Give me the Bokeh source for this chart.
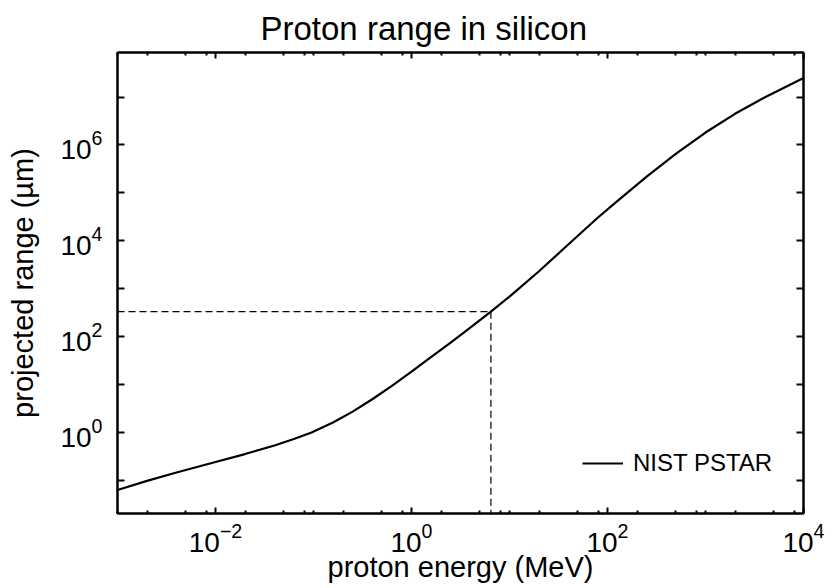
from bokeh.plotting import figure
from bokeh.models import Range1d, FixedTicker, LogAxis, LogTickFormatter, Title
from bokeh.embed import file_html
from bokeh.resources import INLINE

# Proton projected range in silicon (NIST PSTAR)
energy_mev = [0.001, 0.002, 0.004, 0.01, 0.02, 0.04, 0.063, 0.0955,
              0.158, 0.251, 0.398, 0.631, 1.0, 1.58, 2.51, 3.98, 6.46,
              10, 20, 39.8, 79.4, 119, 251, 501, 1000, 2000, 4000, 10000]
range_um = [0.0631, 0.0977, 0.146, 0.243, 0.355, 0.537, 0.733, 1.0,
            1.62, 2.73, 4.94, 9.44, 18.6, 37.3, 75.5, 154, 333,
            687, 2320, 8375, 30270, 61240, 218800, 660700, 1.82e6, 4.47e6,
            9.77e6, 2.51e7]

# highlighted operating point
marker_energy = 6.46
marker_range = 333

x_decades = list(range(-3, 5))
y_decades = list(range(-1, 8))

FONT = "Liberation Sans"

x_start, x_end = 1e-3, 1e4
y_start, y_end = 10 ** -1.69, 10 ** 7.93

p = figure(width=837, height=588, x_axis_type="log", y_axis_type="log",
           x_range=Range1d(x_start, x_end), y_range=Range1d(y_start, y_end),
           output_backend="svg", toolbar_location=None,
           min_border_left=117, min_border_right=34,
           min_border_top=52, min_border_bottom=75)

p.title = Title(text="Proton range in silicon", text_font=FONT,
                text_font_size="33px", text_font_style="normal",
                text_color="black", align="left", offset=143, standoff=12)

p.xgrid.visible = False
p.ygrid.visible = False
p.outline_line_color = "black"
p.outline_line_width = 2
p.background_fill_color = "white"
p.border_fill_color = "white"

# ticks: x has decade majors (every other one labelled) and 2/5/8 minors
x_major = [10.0 ** d for d in x_decades if d % 2 == 0]
x_minor = [10.0 ** d for d in x_decades if d % 2 != 0]
x_small = [m * 10.0 ** d for d in x_decades[:-1] for m in (2, 5, 8)]
x_ticker = FixedTicker(ticks=x_major, minor_ticks=x_minor + x_small)

y_major = [10.0 ** d for d in y_decades if d % 2 == 0]
y_minor = [10.0 ** d for d in y_decades if d % 2 != 0]
y_ticker = FixedTicker(ticks=y_major, minor_ticks=y_minor)


def style_axis(ax, major_len, minor_len):
    ax.axis_line_width = 2
    ax.major_tick_line_width = 2
    ax.minor_tick_line_width = 2
    ax.major_tick_in = major_len
    ax.major_tick_out = 0
    ax.minor_tick_in = minor_len
    ax.minor_tick_out = 0
    ax.major_label_text_font = FONT
    ax.major_label_text_font_size = "28px"
    ax.major_label_text_color = "black"
    ax.axis_label_text_font = FONT
    ax.axis_label_text_font_size = "29px"
    ax.axis_label_text_font_style = "normal"
    ax.axis_label_text_color = "black"


def hide_labels(ax):
    ax.major_label_text_color = None
    ax.major_label_text_font_size = "1px"
    ax.major_label_standoff = 0
    ax.axis_label_standoff = 0


xb = p.xaxis[0]
xb.ticker = x_ticker
xb.axis_label = "proton energy (MeV)"
xb.major_label_standoff = 9
xb.axis_label_standoff = -4
style_axis(xb, 6, 3)

yl = p.yaxis[0]
yl.ticker = y_ticker
yl.axis_label = "projected range (µm)"
yl.major_label_standoff = 15
yl.axis_label_standoff = 18
style_axis(yl, 7, 7)

top = LogAxis(ticker=x_ticker, formatter=LogTickFormatter())
style_axis(top, 6, 3)
hide_labels(top)
p.add_layout(top, "above")

right = LogAxis(ticker=y_ticker, formatter=LogTickFormatter())
style_axis(right, 7, 7)
hide_labels(right)
p.add_layout(right, "right")

# range curve
p.line(energy_mev, range_um, line_color="black", line_width=2.2,
       line_join="round", legend_label="NIST PSTAR")

# dashed guides to the operating point
p.segment(x0=[x_start, marker_energy], y0=[marker_range, marker_range],
          x1=[marker_energy, marker_energy], y1=[marker_range, y_start],
          line_color="black", line_width=1.2, line_dash="7 4")

lg = p.legend[0]
lg.location = (465, 36)
lg.border_line_color = None
lg.background_fill_alpha = 0
lg.padding = 0
lg.margin = 0
lg.spacing = 0
lg.glyph_width = 41
lg.glyph_height = 24
lg.label_height = 24
lg.label_standoff = 10
lg.label_text_font = FONT
lg.label_text_font_size = "24px"
lg.label_text_color = "black"

open("out.html", "w").write(file_html(p, INLINE))
